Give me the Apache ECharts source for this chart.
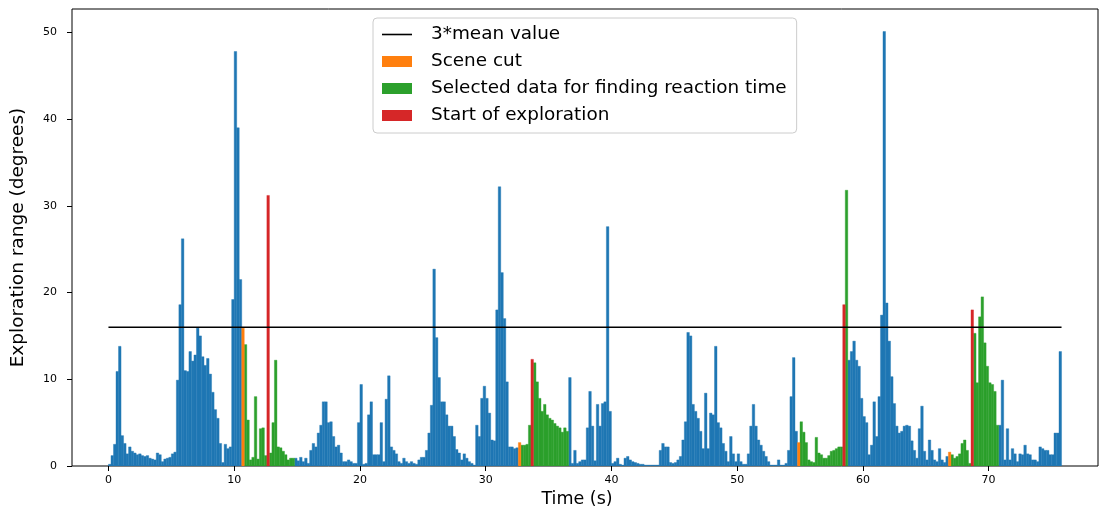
<!DOCTYPE html>
<html><head><meta charset="utf-8">
<script src="https://cdn.jsdelivr.net/npm/echarts@6/dist/echarts.min.js"></script>
<style>html,body{margin:0;padding:0;background:#fff}#chart{width:1109px;height:510px}</style>
</head><body><div id="chart"></div>
<script>
// ---- data (bar width 0.2 s, values in degrees) ----
const BIN = 0.2;
const values0to10 = [0.2,1.2,2.5,10.9,13.8,3.5,2.6,1.4,2.2,1.7, 1.5,1.3,1.4,1.2,1.1,1.2,0.9,0.8,0.7,1.5,
  1.3,0.5,0.8,0.9,1.0,1.4,1.6,9.9,18.6,26.2, 11.0,10.9,13.2,12.1,12.8,15.9,15.0,12.6,11.6,12.4,
  10.6,8.5,6.5,5.5,2.6,0.4,2.5,2.0,2.2,19.2];
const values10to20 = [47.8,39.0,21.5,15.9,14.0,5.3,0.7,1.0,8.0,0.8, 4.3,4.4,1.2,31.2,1.5,5.0,12.2,2.2,2.1,1.7,
  1.3,0.7,0.9,0.9,0.9,0.6,1.0,0.5,0.9,0.3, 1.8,2.6,2.2,3.8,4.7,7.4,7.4,5.0,5.1,3.4,
  2.2,2.4,1.5,0.5,0.5,0.7,0.5,0.3,0.3,5.0];
const values20to30 = [9.4,0.2,0.3,5.9,7.4,1.3,1.3,1.3,5.0,0.5, 7.7,10.4,2.2,1.8,1.4,0.5,0.3,0.9,0.5,0.3,
  0.5,0.3,0.2,0.7,1.0,1.0,1.8,3.8,7.0,22.7, 14.8,10.2,7.4,7.4,5.9,4.6,4.6,3.4,1.9,1.5,
  0.7,1.4,0.9,0.5,0.3,0.1,4.7,3.4,7.8,9.2];
const values30to40 = [7.8,6.1,3.0,2.9,18.0,32.2,22.3,17.0,9.7,2.2, 2.2,2.0,2.1,2.7,2.4,2.4,2.5,4.7,12.3,11.9,
  9.7,7.8,6.3,7.1,5.9,5.5,5.3,4.9,4.6,4.4, 3.9,4.4,4.0,10.2,0.3,1.8,0.3,0.5,0.7,0.7,
  4.4,8.6,4.6,0.6,7.1,4.6,7.2,7.4,27.6,6.3];
const values40to50 = [0.3,0.5,0.9,0.2,0.1,0.9,1.1,0.7,0.5,0.4, 0.3,0.2,0.2,0.1,0.1,0.1,0.1,0.1,0.1,1.8,
  2.6,2.2,2.2,0.4,0.3,0.4,0.7,1.1,3.0,5.1, 15.4,15.0,7.1,6.3,5.5,4.0,2.0,8.4,2.0,6.1,
  5.9,13.8,5.0,4.4,2.6,1.7,0.5,3.4,1.4,0.5];
const values50to60 = [1.4,0.5,0.2,0.2,1.4,4.6,7.1,4.6,3.0,2.4, 1.7,1.1,0.5,0.1,0.1,0.1,0.7,0.1,0.1,0.3,
  1.8,8.0,12.5,4.0,2.7,5.1,3.9,2.7,0.7,0.5, 0.4,3.3,1.5,1.3,0.9,0.9,1.2,1.7,1.8,2.0,
  2.2,2.2,18.6,31.8,12.2,13.2,14.4,12.2,11.5,7.8];
const values60to70 = [5.7,5.0,1.3,2.4,7.4,3.4,8.0,17.4,50.1,18.8, 14.4,10.3,7.2,4.6,3.8,4.0,4.6,4.7,4.6,2.9,
  1.8,0.9,4.3,6.9,1.7,0.7,3.0,1.8,0.7,0.5, 2.0,0.7,0.4,1.1,1.6,1.3,0.9,1.1,1.4,2.6,
  3.0,1.8,0.3,18.0,15.3,9.6,17.2,19.5,14.2,11.5];
const values70to76 = [9.6,9.4,8.6,4.7,4.7,9.9,0.7,4.3,0.7,2.0, 1.4,0.5,1.4,1.3,2.4,1.4,1.3,0.7,0.7,0.5,
  2.2,2.0,1.8,1.8,1.3,1.3,3.8,3.8,13.2];

const meanValue3x = 16.0;
const sceneCutTimes = [10.6, 32.6, 54.8, 66.8];
const explorationStartTimes = [12.6, 33.6, 58.4, 68.6];
const selectedRanges = [[10.8, 14.8], [32.8, 36.6], [55.0, 58.8], [67.0, 70.8]];
const xTicks = [0, 10, 20, 30, 40, 50, 60, 70];
const yTicks = [0, 10, 20, 30, 40, 50];
const names = {mean: '3*mean value', cut: 'Scene cut', sel: 'Selected data for finding reaction time', start: 'Start of exploration', all: 'Exploration range'};

// ---- build series data ----
const allValues = [].concat(values0to10, values10to20, values20to30, values30to40,
  values40to50, values50to60, values60to70, values70to76);
const tenth = x => Math.round(x * 10);
const blue = [], orange = [], green = [], red = [];
allValues.forEach((v, i) => {
  const t = i * BIN;
  const tt = tenth(t);
  if (sceneCutTimes.some(s => tenth(s) === tt)) orange.push([t, v]);
  else if (explorationStartTimes.some(s => tenth(s) === tt)) red.push([t, v]);
  else if (selectedRanges.some(r => tt >= tenth(r[0]) && tt < tenth(r[1]))) green.push([t, v]);
  else blue.push([t, v]);
});
const endTime = allValues.length * BIN;

function renderBar(params, api) {
  const t = api.value(0), v = api.value(1);
  const p0 = api.coord([t, v]);
  const p1 = api.coord([t + BIN, 0]);
  const c = api.visual('color');
  return {
    type: 'rect',
    shape: {x: p0[0], y: p0[1], width: p1[0] - p0[0], height: p1[1] - p0[1]},
    style: {fill: c, stroke: c, lineWidth: 0.4}
  };
}
function barSeries(name, data, color, z) {
  return {type: 'custom', name: name, data: data, renderItem: renderBar, clip: true,
    encode: {x: 0, y: 1}, itemStyle: {color: color}, z: z, silent: true};
}

const FONT = 'DejaVu Sans';
const chart = echarts.init(document.getElementById('chart'), null, {renderer: 'canvas'});
chart.setOption({
  animation: false,
  backgroundColor: '#fff',
  textStyle: {fontFamily: FONT},
  grid: {left: 72, right: 11, top: 9, bottom: 44, outerBoundsMode: 'none', containLabel: false,
    show: true, borderColor: '#000', borderWidth: 1, backgroundColor: 'transparent'},
  xAxis: {
    type: 'value', min: -2.9, max: 78.7,
    name: 'Time (s)', nameLocation: 'middle', nameGap: 21,
    nameTextStyle: {fontSize: 17.5, color: '#000', fontFamily: FONT, padding: [0, 16, 0, 0]},
    axisLine: {show: false, onZero: false}, splitLine: {show: false},
    axisTick: {show: true, length: 5, lineStyle: {color: '#000'}, customValues: xTicks},
    axisLabel: {fontSize: 11, color: '#000', margin: 9, fontFamily: FONT, customValues: xTicks}
  },
  yAxis: {
    type: 'value', min: 0, max: 52.7,
    name: 'Exploration range (degrees)', nameLocation: 'middle', nameGap: 44,
    nameTextStyle: {fontSize: 18.5, color: '#000', fontFamily: FONT},
    axisLine: {show: false, onZero: false}, splitLine: {show: false},
    axisTick: {show: true, length: 5, lineStyle: {color: '#000'}, customValues: yTicks},
    axisLabel: {fontSize: 11, color: '#000', margin: 15, fontFamily: FONT, customValues: yTicks}
  },
  legend: {
    orient: 'vertical', left: 373, top: 18,
    padding: [6, 10, 7, 9], itemGap: 6, itemWidth: 30, itemHeight: 11,
    backgroundColor: 'rgba(255,255,255,0.8)', borderColor: '#cccccc', borderWidth: 1, borderRadius: 4,
    textStyle: {fontSize: 18.4, color: '#000', fontFamily: FONT, lineHeight: 21, padding: [0, 0, 0, 14]},
    data: [
      {name: names.mean, icon: 'path://M0,0 H30 V1.6 H0 Z'},
      {name: names.cut, icon: 'rect'},
      {name: names.sel, icon: 'rect'},
      {name: names.start, icon: 'rect'}
    ]
  },
  series: [
    barSeries(names.all, blue, '#1f77b4', 1),
    barSeries(names.sel, green, '#2ca02c', 2),
    barSeries(names.cut, orange, '#ff7f0e', 3),
    barSeries(names.start, red, '#d62728', 3),
    {type: 'line', name: names.mean, data: [[0, meanValue3x], [endTime, meanValue3x]],
      symbol: 'none', lineStyle: {color: '#000', width: 1.5}, itemStyle: {color: '#000'}, z: 5, silent: true}
  ]
});
</script></body></html>
